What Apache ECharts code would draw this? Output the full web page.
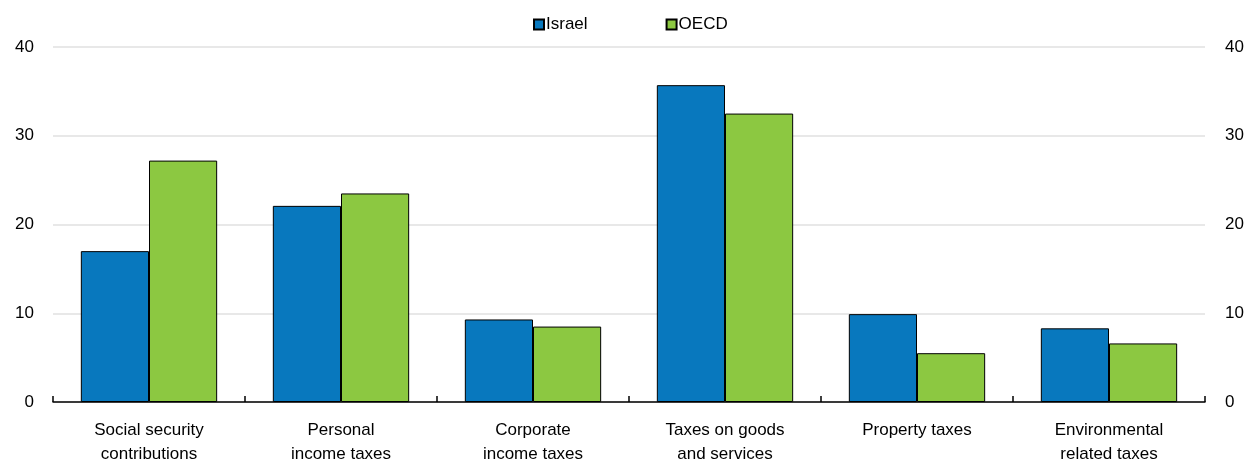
<!DOCTYPE html>
<html>
<head>
<meta charset="utf-8">
<script src="https://cdn.jsdelivr.net/npm/echarts@6/dist/echarts.min.js"></script>
<style>
  html, body { margin: 0; padding: 0; background: #fff; }
  #chart { width: 1245px; height: 460px; }
</style>
</head>
<body>
<div id="chart"></div>
<script>
// categories and values
var categories = [
  "Social security\ncontributions",
  "Personal\nincome taxes",
  "Corporate\nincome taxes",
  "Taxes on goods\nand services",
  "Property taxes",
  "Environmental\nrelated taxes"
];
var israel = [17.0, 22.1, 9.3, 35.7, 9.9, 8.3];
var oecd = [27.2, 23.5, 8.5, 32.5, 5.5, 6.6];
var yTicks = [0, 10, 20, 30, 40];

var font = "'Liberation Sans', Arial, sans-serif";
var chart = echarts.init(document.getElementById("chart"));

function valueAxis(pos) {
  return {
    type: "value",
    position: pos,
    min: yTicks[0],
    max: yTicks[yTicks.length - 1],
    interval: 10,
    axisLine: { show: false },
    axisTick: { show: false },
    axisLabel: {
      color: "#000",
      fontFamily: font,
      fontSize: 17,
      margin: pos === "left" ? 19 : 20
    },
    splitLine: { show: pos === "left", lineStyle: { color: "#e0e0e0", width: 1.5 } }
  };
}

var option = {
  animation: false,
  legend: {
    top: 11,
    left: 528,
    itemWidth: 10,
    itemHeight: 10,
    itemGap: 78,
    icon: "rect",
    textStyle: { color: "#000", fontFamily: font, fontSize: 17, padding: [0, 0, 0, -3] },
    data: ["Israel", "OECD"]
  },
  grid: { left: 53, right: 40, top: 47, bottom: 58, outerBoundsMode: "none" },
  xAxis: {
    type: "category",
    data: categories,
    axisLine: { lineStyle: { color: "#000", width: 1.5 } },
    axisTick: { show: true, inside: true, length: 6, lineStyle: { color: "#000", width: 1.5 } },
    axisLabel: {
      color: "#000",
      fontFamily: font,
      fontSize: 17,
      lineHeight: 24,
      margin: 16
    }
  },
  yAxis: [valueAxis("left"), valueAxis("right")],
  series: [
    {
      name: "Israel",
      type: "bar",
      data: israel,
      barGap: "0%",
      barCategoryGap: "29%",
      itemStyle: { color: "#0878be", borderColor: "#000", borderWidth: 1 }
    },
    {
      name: "OECD",
      type: "bar",
      data: oecd,
      itemStyle: { color: "#8cc841", borderColor: "#000", borderWidth: 1 }
    }
  ]
};

chart.setOption(option);
</script>
</body>
</html>
